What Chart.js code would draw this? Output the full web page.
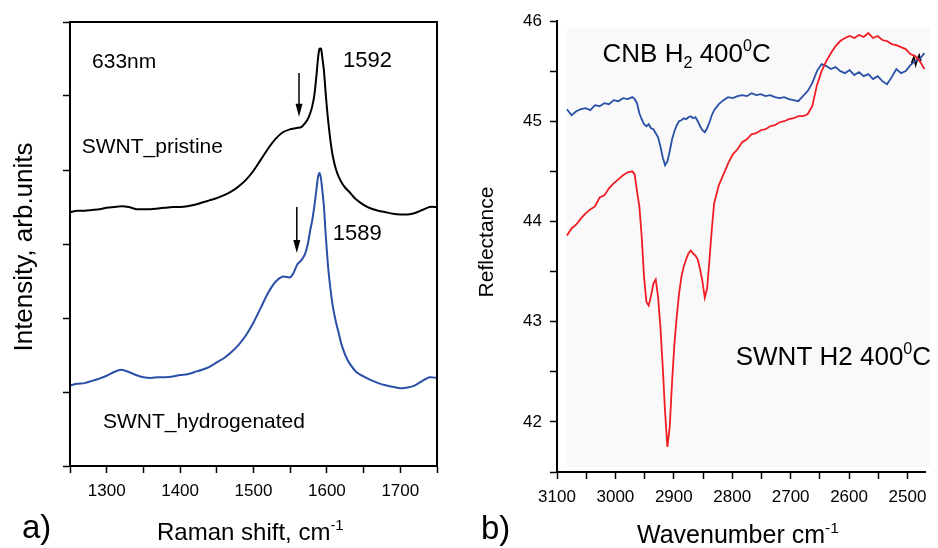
<!DOCTYPE html>
<html>
<head>
<meta charset="utf-8">
<script src="https://cdn.jsdelivr.net/npm/chart.js@4.4.1/dist/chart.umd.min.js"></script>
<style>
html,body{margin:0;padding:0;background:#fff;}
#wrap{position:relative;width:938px;height:548px;overflow:hidden;}
canvas{position:absolute;top:0;}
#ramanChart{left:0;}
#irChart{left:470px;}
</style>
</head>
<body>
<div id="wrap">
<canvas id="ramanChart" width="470" height="548"></canvas>
<canvas id="irChart" width="468" height="548"></canvas>
</div>
<script>
// ---- panel a) Raman data ----
const ramanShift = [1250,1260,1270,1280,1290,1300,1310,1320,1330,1340,1350,1360,1370,1380,1390,1400,
  1410,1420,1430,1440,1450,1460,1470,1480,1490,1500,1510,1520,1530,1540,1550,1555,1560,1565,1570,
  1574,1577,1580,1583,1586,1588,1590,1592,1594,1596,1598,1600,1602,1605,1608,1612,1616,1620,1625,
  1630,1640,1650,1660,1670,1680,1690,1700,1710,1720,1730,1740,1750];
const pristine = [3.43,3.45,3.45,3.46,3.47,3.49,3.50,3.51,3.50,3.47,3.47,3.47,3.48,3.49,3.50,3.50,
  3.51,3.53,3.56,3.59,3.62,3.66,3.71,3.78,3.87,3.99,4.14,4.29,4.42,4.51,4.55,4.56,4.57,4.58,4.63,
  4.69,4.76,4.86,5.02,5.30,5.52,5.64,5.64,5.50,5.34,5.08,4.84,4.64,4.38,4.19,4.02,3.91,3.83,3.76,
  3.71,3.60,3.53,3.48,3.45,3.43,3.41,3.40,3.40,3.42,3.46,3.50,3.50];
const hydrogenated = [1.09,1.11,1.12,1.15,1.18,1.22,1.27,1.30,1.27,1.23,1.20,1.19,1.20,1.20,1.21,1.23,
  1.24,1.27,1.30,1.34,1.40,1.46,1.54,1.64,1.77,1.94,2.14,2.34,2.49,2.56,2.55,2.62,2.73,2.78,2.86,
  3.00,3.17,3.32,3.52,3.76,3.91,3.96,3.88,3.70,3.50,3.18,2.90,2.65,2.38,2.16,1.96,1.80,1.64,1.50,
  1.40,1.27,1.21,1.16,1.12,1.09,1.07,1.05,1.06,1.09,1.15,1.20,1.19];

// ---- panel b) IR reflectance data ----
const wavenumber = [3083,3075,3067,3059,3051,3043,3035,3027,3019,3011,3003,2995,2987,2979,2971,
  2967,2963,2959,2955,2951,2947,2943,2939,2935,2931,2927,2923,2919,2915,2911,2907,2903,2899,2895,
  2891,2887,2883,2879,2875,2871,2867,2863,2859,2855,2851,2847,2843,2839,2835,2831,
  2823,2815,2807,2799,2791,2783,2775,2767,2759,2751,2743,2735,2727,2719,2711,2703,2695,2687,2679,
  2671,2663,2655,2647,2639,2631,2623,2615,2607,2599,2591,2583,2575,2567,2559,2551,2543,2535,2527,
  2519,2511,2503,2495,2487,2479,2471];
const swntH2 = [43.86,43.93,43.97,44.03,44.08,44.12,44.15,44.24,44.26,44.33,44.38,44.42,44.46,44.49,44.50,
  44.47,44.30,44.15,43.85,43.45,43.20,43.16,43.26,43.38,43.42,43.25,42.95,42.55,42.10,41.75,41.95,42.40,
  42.78,43.05,43.28,43.45,43.55,43.62,43.68,43.71,43.68,43.66,43.62,43.52,43.40,43.24,43.33,43.62,43.92,44.18,
  44.36,44.47,44.58,44.67,44.72,44.79,44.82,44.87,44.88,44.91,44.92,44.95,44.96,44.99,45.00,45.02,45.03,
  45.05,45.05,45.07,45.15,45.36,45.50,45.60,45.68,45.75,45.80,45.83,45.85,45.83,45.86,45.84,45.88,45.83,
  45.85,45.81,45.80,45.77,45.76,45.74,45.72,45.67,45.65,45.60,45.52];
const cnbH2 = [45.12,45.06,45.10,45.12,45.13,45.11,45.16,45.15,45.18,45.17,45.21,45.20,45.23,45.22,45.24,
  45.22,45.18,45.08,45.02,44.97,44.95,44.97,44.93,44.92,44.88,44.84,44.75,44.64,44.56,44.60,44.70,44.82,
  44.90,44.96,45.00,45.01,45.03,45.02,45.04,45.05,45.03,45.04,45.00,44.95,44.91,44.89,44.93,44.99,45.06,45.11,
  45.17,45.21,45.24,45.23,45.25,45.26,45.25,45.28,45.26,45.27,45.25,45.26,45.24,45.23,45.24,45.22,45.21,
  45.20,45.25,45.30,45.38,45.50,45.57,45.55,45.52,45.54,45.50,45.48,45.51,45.46,45.49,45.45,45.47,45.42,
  45.45,45.40,45.37,45.44,45.52,45.48,45.50,45.56,45.60,45.62,45.68];
const tailX = [2493,2489,2486,2483,2480,2477];
const tailY = [45.58,45.64,45.56,45.62,45.66,45.60];

const FONT = '"Liberation Sans", Arial, Helvetica, sans-serif';

function pts(xs, ys) { return xs.map((x, i) => ({x: x, y: ys[i]})); }

// parts: [text, kind] where kind is '', 'sub' or 'sup'
function richText(ctx, parts, x, y, size, align) {
  ctx.save();
  ctx.fillStyle = '#000';
  ctx.textBaseline = 'alphabetic';
  ctx.textAlign = 'left';
  let total = 0;
  const widths = parts.map(p => {
    ctx.font = (p[1] ? size * 0.62 : size) + 'px ' + FONT;
    const w = ctx.measureText(p[0]).width;
    total += w;
    return w;
  });
  let cx = align === 'center' ? x - total / 2 : x;
  parts.forEach((p, i) => {
    ctx.font = (p[1] ? size * 0.62 : size) + 'px ' + FONT;
    const dy = p[1] === 'sup' ? -size * 0.42 : (p[1] === 'sub' ? size * 0.24 : 0);
    ctx.fillText(p[0], cx, y + dy);
    cx += widths[i];
  });
  ctx.restore();
}

function vText(ctx, text, x, y, size) {
  ctx.save();
  ctx.translate(x, y);
  ctx.rotate(-Math.PI / 2);
  ctx.font = size + 'px ' + FONT;
  ctx.fillStyle = '#000';
  ctx.textAlign = 'center';
  ctx.textBaseline = 'middle';
  ctx.fillText(text, 0, 0);
  ctx.restore();
}

function arrowDown(ctx, x, yTop, yTip) {
  ctx.save();
  ctx.strokeStyle = '#000';
  ctx.fillStyle = '#000';
  ctx.lineWidth = 1.5;
  ctx.beginPath();
  ctx.moveTo(x, yTop);
  ctx.lineTo(x, yTip - 6);
  ctx.stroke();
  ctx.beginPath();
  ctx.moveTo(x, yTip);
  ctx.lineTo(x - 3.5, yTip - 13);
  ctx.lineTo(x + 3.5, yTip - 13);
  ctx.closePath();
  ctx.fill();
  ctx.restore();
}

function axisCommon(extra) {
  return Object.assign({
    type: 'linear',
    grid: {drawOnChartArea: false, tickLength: 7, tickColor: '#000', tickWidth: 1.5},
    border: {color: '#000', width: 2}
  }, extra);
}

const ramanDecor = {
  id: 'ramanDecor',
  afterDraw(chart) {
    const ctx = chart.ctx, a = chart.chartArea;
    const x = chart.scales.x, y = chart.scales.y;
    ctx.save();
    ctx.strokeStyle = '#000';
    ctx.lineWidth = 2;
    ctx.strokeRect(a.left, a.top, a.right - a.left, a.bottom - a.top);
    ctx.restore();

    richText(ctx, [['633nm', '']], x.getPixelForValue(1280), y.getPixelForValue(5.38), 21);
    richText(ctx, [['1592', '']], x.getPixelForValue(1622), y.getPixelForValue(5.39), 22);
    richText(ctx, [['SWNT_pristine', '']], x.getPixelForValue(1266), y.getPixelForValue(4.23), 21);
    richText(ctx, [['1589', '']], x.getPixelForValue(1608), y.getPixelForValue(3.05), 22);
    richText(ctx, [['SWNT_hydrogenated', '']], x.getPixelForValue(1295), y.getPixelForValue(0.51), 21);

    arrowDown(ctx, x.getPixelForValue(1562), y.getPixelForValue(5.31), y.getPixelForValue(4.72));
    arrowDown(ctx, x.getPixelForValue(1559), y.getPixelForValue(3.50), y.getPixelForValue(2.88));

    vText(ctx, 'Intensity, arb.units', 25, 247, 26);
    richText(ctx, [['Raman shift, cm', ''], ['-1', 'sup']], 157, 540, 24);
    richText(ctx, [['a)', '']], 22, 538, 33);
  }
};

const irDecor = {
  id: 'irDecor',
  beforeDatasetsDraw(chart) {
    const ctx = chart.ctx, a = chart.chartArea;
    const x = chart.scales.x;
    ctx.save();
    ctx.fillStyle = '#f9f9f9';
    const x0 = x.getPixelForValue(wavenumber[0]);
    ctx.fillRect(x0, a.top + 6, a.right + 5 - x0, a.bottom - a.top - 11);
    ctx.restore();
  },
  afterDraw(chart) {
    const ctx = chart.ctx;
    const x = chart.scales.x, y = chart.scales.y;
    richText(ctx, [['CNB H', ''], ['2', 'sub'], [' 400', ''], ['0', 'sup'], ['C', '']],
      x.getPixelForValue(3022), y.getPixelForValue(45.59), 26);
    richText(ctx, [['SWNT H2 400', ''], ['0', 'sup'], ['C', '']],
      x.getPixelForValue(2794), y.getPixelForValue(42.57), 26);

    vText(ctx, 'Reflectance', 17, 242, 21);
    richText(ctx, [['Wavenumber cm', ''], ['-1', 'sup']], 167, 543, 25);
    richText(ctx, [['b)', '']], 11, 539, 33);
  }
};

Chart.defaults.font.family = FONT;
Chart.defaults.color = '#000';

new Chart(document.getElementById('ramanChart'), {
  type: 'line',
  data: {
    datasets: [
      {label: 'SWNT_pristine', data: pts(ramanShift, pristine), borderColor: '#000000', borderWidth: 2},
      {label: 'SWNT_hydrogenated', data: pts(ramanShift, hydrogenated), borderColor: '#2a4fa6', borderWidth: 2}
    ]
  },
  options: {
    responsive: false,
    animation: false,
    parsing: false,
    elements: {point: {radius: 0}, line: {tension: 0.25}},
    layout: {padding: {left: 0, top: 22, right: 33, bottom: 0}},
    plugins: {legend: {display: false}, tooltip: {enabled: false}},
    scales: {
      x: axisCommon({
        min: 1250, max: 1750,
        ticks: {stepSize: 50, autoSkip: false, padding: 8, font: {size: 17}, maxRotation: 0,
          callback: v => (v % 100 === 0 ? String(v) : '')},
        afterFit: s => { s.height = 82; }
      }),
      y: axisCommon({
        min: 0, max: 6,
        ticks: {stepSize: 1, autoSkip: false, callback: () => ''},
        afterFit: s => { s.width = 70; }
      })
    }
  },
  plugins: [ramanDecor]
});

new Chart(document.getElementById('irChart'), {
  type: 'line',
  data: {
    datasets: [
      {label: 'SWNT H2 400C', data: pts(wavenumber, swntH2), borderColor: '#f01e24', borderWidth: 1.8},
      {label: 'CNB H2 400C', data: pts(wavenumber, cnbH2), borderColor: '#2a4fa6', borderWidth: 1.8},
      {label: 'tail', data: pts(tailX, tailY), borderColor: '#000000', borderWidth: 1.6}
    ]
  },
  options: {
    responsive: false,
    animation: false,
    parsing: false,
    elements: {point: {radius: 0}, line: {tension: 0}},
    layout: {padding: {left: 0, top: 21, right: 13, bottom: 0}},
    plugins: {legend: {display: false}, tooltip: {enabled: false}},
    scales: {
      x: axisCommon({
        min: 2470, max: 3100, reverse: true,
        ticks: {stepSize: 50, autoSkip: false, includeBounds: false, padding: 8, font: {size: 17}, maxRotation: 0,
          callback: v => (v % 100 === 0 ? String(v) : '')},
        afterFit: s => { s.height = 76; }
      }),
      y: axisCommon({
        min: 41.5, max: 46,
        ticks: {stepSize: 0.5, autoSkip: false, padding: 8, font: {size: 17},
          callback: v => (Number.isInteger(v) ? String(v) : '')},
        afterFit: s => { s.width = 87; }
      })
    }
  },
  plugins: [irDecor]
});
</script>
</body>
</html>
